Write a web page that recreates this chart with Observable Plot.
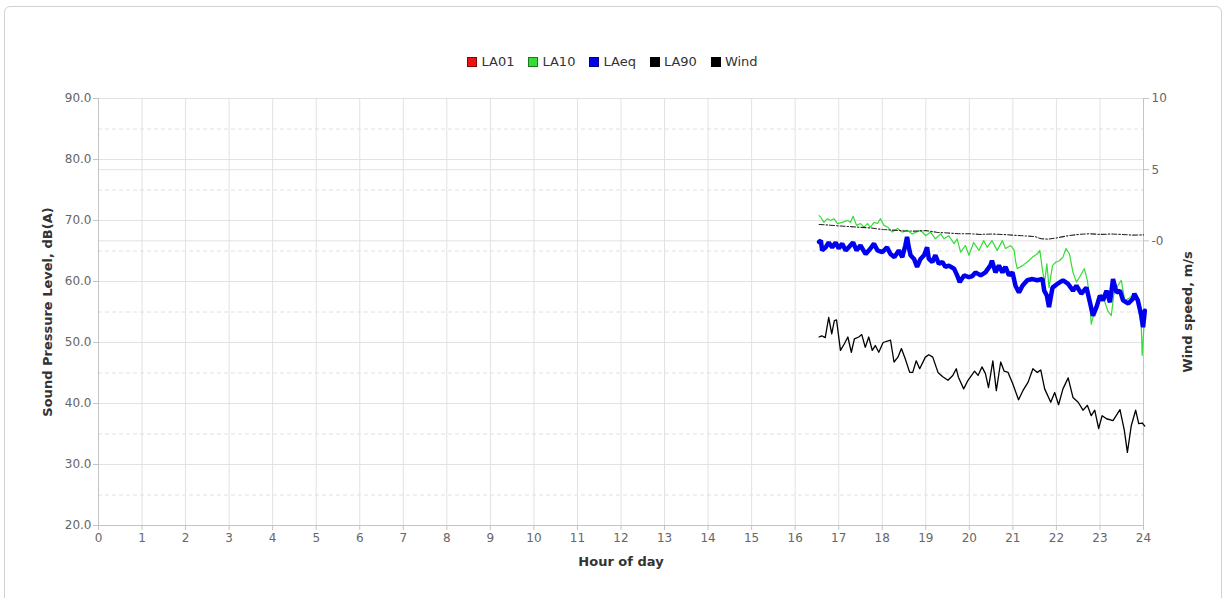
<!DOCTYPE html>
<html>
<head>
<meta charset="utf-8">
<script src="https://cdn.jsdelivr.net/npm/d3@7"></script>
<script src="https://cdn.jsdelivr.net/npm/@observablehq/plot@0.6"></script>
<style>
  body { margin: 0; background: #fff; font-family: "DejaVu Sans", sans-serif; }
  #wrap { position: relative; width: 1225px; height: 598px; overflow: hidden; background: #fff; }
  #frame { position: absolute; left: 4px; top: 6px; width: 1216px; height: 640px; border: 1px solid #d2d2d2; border-radius: 6px; pointer-events: none; }
  #legend { position: relative; height: 80px; box-sizing: border-box; padding-bottom: 10px; display: flex; justify-content: center; align-items: flex-end; font-size: 13px; color: #333; }
  .item { display: flex; align-items: center; margin: 0 7px; line-height: 16px; }
  .sw { width: 8px; height: 8px; border: 1px solid rgba(0,0,0,0.45); margin-right: 4px; }
  #chart svg { display: block; }
</style>
</head>
<body>
<div id="wrap">
  <div id="frame"></div>
  <div id="legend"></div>
  <div id="chart"></div>
</div>
<script>
// ---- data ----
const seriesNames = ["LA01", "LA10", "LAeq", "LA90", "Wind"];
const seriesColors = ["#ee1111", "#33dd33", "#0000f0", "#000000", "#000000"];

const hourTicks = d3.range(0, 25);
const dbTicks = [20, 30, 40, 50, 60, 70, 80, 90];
const dbMinorTicks = [25, 35, 45, 55, 65, 75, 85];
const windTicks = [0, 5, 10];

const la01Hours = [];
const la01Values = [];

const la10Hours = [16.55,16.59,16.66,16.74,16.81,16.89,16.97,17.08,17.20,17.27,17.33,17.41,17.50,17.58,17.66,17.73,17.81,17.89,17.96,18.04,18.13,18.23,18.35,18.46,18.57,18.69,18.78,18.88,19.00,19.11,19.22,19.34,19.42,19.53,19.65,19.72,19.80,19.91,19.99,20.10,20.22,20.33,20.41,20.52,20.64,20.76,20.83,20.95,21.03,21.06,21.10,21.22,21.33,21.45,21.56,21.62,21.68,21.73,21.78,21.83,21.91,21.99,22.07,22.15,22.22,22.30,22.38,22.46,22.53,22.64,22.71,22.76,22.80,22.88,22.95,23.03,23.10,23.18,23.26,23.33,23.41,23.49,23.57,23.66,23.79,23.87,23.95,23.97,24.00,24.03];
const la10Values = [70.8,70.5,69.7,70.3,70.0,70.3,69.5,69.7,70.0,69.7,70.7,69.2,69.5,68.9,69.5,68.9,69.7,69.5,70.3,69.2,68.9,68.1,68.7,68.1,68.4,67.8,68.1,68.4,67.5,68.1,67.0,67.8,67.0,67.5,66.2,67.0,64.8,65.9,64.3,66.4,65.1,66.7,65.6,66.7,65.1,66.7,65.4,65.9,65.1,63.4,62.1,62.6,63.2,64.0,64.5,65.1,61.8,59.9,62.9,59.0,62.6,63.2,63.4,64.0,65.4,64.5,61.5,59.9,60.7,62.1,60.2,57.4,53.0,55.2,57.4,57.7,56.9,55.2,54.4,58.5,59.3,60.2,56.9,57.2,58.0,56.4,52.5,47.9,51.4,55.2];

const laeqHours = [16.55,16.59,16.62,16.70,16.77,16.85,16.93,17.00,17.08,17.16,17.23,17.33,17.41,17.50,17.62,17.73,17.81,17.89,18.00,18.11,18.19,18.28,18.38,18.46,18.53,18.57,18.61,18.65,18.73,18.80,18.88,18.96,19.03,19.07,19.15,19.22,19.30,19.38,19.45,19.53,19.65,19.72,19.78,19.88,19.99,20.07,20.14,20.26,20.37,20.48,20.52,20.60,20.68,20.76,20.83,20.91,20.99,21.06,21.14,21.22,21.33,21.45,21.56,21.68,21.72,21.78,21.83,21.91,22.02,22.15,22.27,22.38,22.46,22.57,22.69,22.76,22.84,22.92,23.00,23.07,23.15,23.23,23.30,23.38,23.46,23.53,23.65,23.76,23.79,23.87,23.95,23.99,24.03];
const laeqValues = [66.5,66.7,65.1,65.6,66.4,65.6,66.4,65.4,66.2,65.1,65.6,66.4,65.1,65.9,64.5,65.4,66.2,65.1,64.8,65.6,64.5,64.0,65.1,64.0,65.9,67.3,65.6,64.3,63.7,62.4,63.7,64.3,65.6,63.7,63.2,64.3,62.9,63.2,62.4,62.6,62.1,61.0,59.9,61.0,60.7,60.9,61.5,61.0,61.5,62.6,63.4,61.5,62.6,61.5,62.4,61.0,61.5,59.3,58.2,59.3,60.2,60.4,60.2,60.4,58.5,57.7,55.8,59.0,59.6,60.2,59.6,58.5,59.3,58.0,59.0,56.9,54.4,55.8,57.7,56.9,58.5,56.6,60.4,58.2,58.5,56.9,56.4,57.2,58.0,56.9,54.4,52.5,55.2];

const la90Hours = [16.55,16.61,16.69,16.77,16.84,16.90,16.95,17.04,17.13,17.21,17.29,17.36,17.46,17.53,17.61,17.69,17.77,17.84,17.92,18.02,18.19,18.27,18.36,18.44,18.53,18.63,18.70,18.78,18.86,18.99,19.07,19.16,19.28,19.39,19.51,19.62,19.70,19.75,19.87,19.97,20.12,20.20,20.29,20.37,20.44,20.54,20.62,20.72,20.80,20.89,21.00,21.13,21.23,21.35,21.46,21.56,21.64,21.73,21.87,21.96,22.05,22.15,22.27,22.38,22.50,22.61,22.71,22.80,22.88,22.97,23.05,23.15,23.30,23.46,23.56,23.63,23.72,23.82,23.89,23.97,24.03];
const la90Values = [50.9,51.1,50.8,54.1,51.4,53.6,53.7,48.7,49.8,50.9,48.4,50.6,50.9,51.3,49.2,50.9,48.7,49.5,48.4,50.0,50.4,46.8,47.6,49.0,47.3,45.1,45.1,47.0,45.7,47.6,48.0,47.6,45.1,44.4,43.8,44.6,45.7,44.3,42.4,43.8,45.3,44.6,46.0,44.9,42.6,47.0,42.1,46.8,45.3,45.1,43.2,40.6,42.1,43.5,45.7,45.1,45.5,42.4,40.2,41.8,39.8,42.4,44.2,41.0,40.2,38.9,39.7,38.0,38.9,35.9,38.0,37.5,37.2,39.0,35.6,32.0,36.4,38.9,36.7,36.8,36.3];

const windHours = [16.55,16.8,17.0,17.25,17.5,17.75,18.0,18.25,18.5,18.75,19.0,19.25,19.5,19.75,20.0,20.25,20.5,20.75,21.0,21.25,21.5,21.65,21.8,22.0,22.25,22.5,22.75,23.0,23.25,23.5,23.75,24.0];
const windValues = [1.15,1.1,1.05,1.0,0.95,0.9,0.8,0.75,0.7,0.68,0.72,0.6,0.55,0.5,0.5,0.45,0.48,0.45,0.4,0.35,0.3,0.15,0.12,0.2,0.35,0.45,0.5,0.45,0.48,0.45,0.4,0.42];

// ---- legend ----
const legend = document.getElementById("legend");
seriesNames.forEach((n, i) => {
  const it = document.createElement("div");
  it.className = "item";
  const sw = document.createElement("span");
  sw.className = "sw";
  sw.style.background = seriesColors[i];
  const t = document.createElement("span");
  t.textContent = n;
  it.appendChild(sw); it.appendChild(t);
  legend.appendChild(it);
});

// ---- chart ----
const toDb = w => 20 + (w + 20) * 70 / 30;
const fromDb = d => Math.round((d - 20) * 30 / 70 - 20);
const pts = (hs, vs) => hs.map((h, i) => ({h, v: vs[i]}));

const gridColor = "#e2e2e2";
const axisColor = "#c4c4c4";
const tickText = "#666";

const plot = Plot.plot({
  width: 1225,
  height: 518,
  marginTop: 18,
  marginLeft: 98,
  marginRight: 82,
  marginBottom: 73,
  x: {domain: [0, 24]},
  y: {domain: [20, 90]},
  style: {fontFamily: "DejaVu Sans, sans-serif", fontSize: "12px", color: tickText, background: "transparent"},
  marks: [
    Plot.ruleX(hourTicks, {stroke: gridColor}),
    Plot.ruleY(dbMinorTicks, {stroke: "#e0e0e0", strokeDasharray: "4,3"}),
    Plot.ruleY(dbTicks, {stroke: gridColor}),
    Plot.ruleY(windTicks.map(toDb), {stroke: gridColor}),
    Plot.ruleY([20], {stroke: axisColor}),
    Plot.ruleX([0], {stroke: axisColor}),
    Plot.ruleX([24], {stroke: axisColor}),
    Plot.axisX({ticks: hourTicks, tickFormat: d => d, tickSize: 5, tickPadding: 3, label: null, stroke: axisColor, fill: tickText}),
    Plot.axisY({anchor: "left", ticks: dbTicks, tickFormat: d3.format(".1f"), tickSize: 5, tickPadding: 2, label: null, stroke: axisColor, fill: tickText}),
    Plot.axisY({anchor: "right", ticks: windTicks.map(toDb), tickFormat: fromDb, tickSize: 5, tickPadding: 3, label: null, stroke: axisColor, fill: tickText}),
    Plot.line(pts(la01Hours, la01Values), {x: "h", y: "v", stroke: seriesColors[0], strokeWidth: 1.2}),
    Plot.line(pts(la10Hours, la10Values), {x: "h", y: "v", stroke: seriesColors[1], strokeWidth: 1.2}),
    Plot.line(pts(laeqHours, laeqValues), {x: "h", y: "v", stroke: seriesColors[2], strokeWidth: 4.5, strokeLinejoin: "miter"}),
    Plot.line(pts(la90Hours, la90Values), {x: "h", y: "v", stroke: seriesColors[3], strokeWidth: 1.3}),
    Plot.line(pts(windHours, windValues), {x: "h", y: d => toDb(d.v), stroke: "#222", strokeWidth: 1.1, strokeDasharray: "5,2,1.5,2"}),
    Plot.text(["Sound Pressure Level, dB(A)"], {text: d => d, frameAnchor: "left", dx: -51, rotate: -90, textAnchor: "middle", fontWeight: "bold", fontSize: 13, fill: "#333"}),
    Plot.text(["Wind speed, m/s"], {text: d => d, frameAnchor: "right", dx: 44, rotate: -90, textAnchor: "middle", fontWeight: "bold", fontSize: 13, fill: "#333"}),
    Plot.text(["Hour of day"], {text: d => d, frameAnchor: "bottom", dy: 40, fontWeight: "bold", fontSize: 13, fill: "#333"})
  ]
});
document.getElementById("chart").appendChild(plot);
</script>
</body>
</html>
